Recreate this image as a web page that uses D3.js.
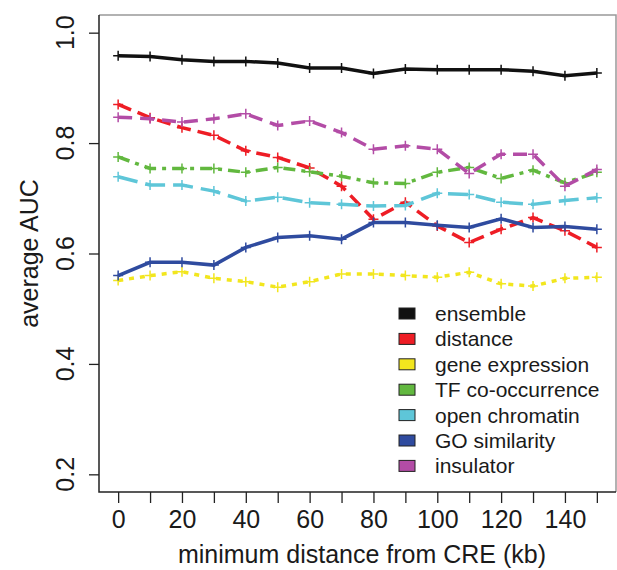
<!DOCTYPE html>
<html>
<head>
<meta charset="utf-8">
<script src="https://cdn.jsdelivr.net/npm/d3@7"></script>
<style>
  body { margin: 0; background: #fff; }
  text { font-family: "Liberation Sans", Arial, sans-serif; fill: #1a1a1a; }
</style>
</head>
<body>
<script>
// data ==============================================================
var distances = [0, 10, 20, 30, 40, 50, 60, 70, 80, 90, 100, 110, 120, 130, 140, 150];

var ensemble    = [0.958, 0.957, 0.951, 0.948, 0.948, 0.945, 0.936, 0.936, 0.926, 0.934, 0.933, 0.933, 0.933, 0.930, 0.922, 0.927];
var distance    = [0.870, 0.846, 0.828, 0.814, 0.786, 0.774, 0.755, 0.722, 0.662, 0.693, 0.650, 0.620, 0.644, 0.665, 0.641, 0.611];
var geneExpr    = [0.551, 0.560, 0.567, 0.555, 0.549, 0.539, 0.549, 0.563, 0.563, 0.560, 0.557, 0.566, 0.545, 0.541, 0.555, 0.557];
var tfCooc      = [0.775, 0.754, 0.754, 0.754, 0.747, 0.756, 0.748, 0.740, 0.728, 0.727, 0.747, 0.756, 0.736, 0.751, 0.728, 0.747];
var openChrom   = [0.739, 0.724, 0.724, 0.713, 0.695, 0.702, 0.692, 0.689, 0.686, 0.687, 0.709, 0.707, 0.693, 0.689, 0.696, 0.701];
var goSim       = [0.560, 0.584, 0.584, 0.579, 0.611, 0.629, 0.632, 0.626, 0.656, 0.656, 0.651, 0.647, 0.663, 0.647, 0.649, 0.644];
var insulator   = [0.847, 0.844, 0.838, 0.844, 0.853, 0.832, 0.840, 0.819, 0.789, 0.795, 0.789, 0.745, 0.780, 0.780, 0.722, 0.752];

var seriesNames = ["ensemble", "distance", "gene expression", "TF co-occurrence", "open chromatin", "GO similarity", "insulator"];
var seriesValues = [ensemble, distance, geneExpr, tfCooc, openChrom, goSim, insulator];
var seriesColors = ["#111111", "#ee1d25", "#f2e61e", "#62b83f", "#5ec6d8", "#2f4b9f", "#b34ca6"];
var seriesDash = [null, "14,7", "5,6", "12,6,4,6", "20,8", null, "14,8"];

var xTicks = [0, 10, 20, 30, 40, 50, 60, 70, 80, 90, 100, 110, 120, 130, 140, 150];
var yTicks = [0.2, 0.4, 0.6, 0.8, 1.0];

// ==================================================================
var width = 617, height = 570;
var plot = { left: 99, right: 616, top: 15, bottom: 492 };

var x = d3.scaleLinear().domain([-6, 156]).range([plot.left, plot.right]);
var y = d3.scaleLinear().domain([0.168, 1.032]).range([plot.bottom, plot.top]);

var svg = d3.select("body").append("svg")
    .attr("width", width)
    .attr("height", height);

// axes
var xAxis = d3.axisBottom(x)
    .tickValues(xTicks)
    .tickSize(11)
    .tickPadding(5)
    .tickFormat(d => d % 20 === 0 ? d : "");

var gx = svg.append("g")
    .attr("transform", "translate(0," + plot.bottom + ")")
    .call(xAxis);
gx.select(".domain").remove();
gx.selectAll("line").attr("stroke", "#222").attr("stroke-width", 1.3);
gx.selectAll("text")
    .attr("font-size", "25px")
    .attr("font-family", "Liberation Sans, Arial, sans-serif")
    .attr("fill", "#1a1a1a")
    .attr("dy", "0.8em");

var yAxis = d3.axisLeft(y)
    .tickValues(yTicks)
    .tickSize(10)
    .tickFormat("");

var gy = svg.append("g")
    .attr("transform", "translate(" + plot.left + ",0)")
    .call(yAxis);
gy.select(".domain").remove();
gy.selectAll("line").attr("stroke", "#222").attr("stroke-width", 1.3);

svg.append("g").selectAll("text")
    .data(yTicks)
  .enter().append("text")
    .attr("transform", d => "translate(74," + y(d) + ") rotate(-90)")
    .attr("text-anchor", "middle")
    .attr("font-size", "25px")
    .text(d => d3.format(".1f")(d));

// axis titles
svg.append("text")
    .attr("x", 362)
    .attr("y", 563)
    .attr("text-anchor", "middle")
    .attr("font-size", "25px")
    .text("minimum distance from CRE (kb)");

svg.append("text")
    .attr("transform", "translate(38," + ((plot.top + plot.bottom) / 2) + ") rotate(-90)")
    .attr("text-anchor", "middle")
    .attr("font-size", "25px")
    .text("average AUC");

// lines
var line = d3.line()
    .x((d, i) => x(distances[i]))
    .y(d => y(d));

var series = svg.append("g").selectAll("g")
    .data(seriesValues)
  .enter().append("g");

series.append("path")
    .attr("d", line)
    .attr("fill", "none")
    .attr("stroke", (d, i) => seriesColors[i])
    .attr("stroke-width", 3.5)
    .attr("stroke-dasharray", (d, i) => seriesDash[i]);

// "+" markers
series.each(function (vals, i) {
  d3.select(this).selectAll("path.pt")
      .data(vals)
    .enter().append("path")
      .attr("class", "pt")
      .attr("d", (v, j) => {
        var cx = x(distances[j]), cy = y(v), r = 5;
        return "M" + (cx - r) + "," + cy + "H" + (cx + r) + "M" + cx + "," + (cy - r) + "V" + (cy + r);
      })
      .attr("stroke", seriesColors[i])
      .attr("stroke-width", 1.5);
});

// box
svg.append("path")
    .attr("d", "M" + plot.left + "," + plot.top + "H" + plot.right + "V" + plot.bottom)
    .attr("fill", "none")
    .attr("stroke", "#999")
    .attr("stroke-width", 1.5);
svg.append("path")
    .attr("d", "M" + plot.left + "," + plot.top + "V" + plot.bottom + "H" + plot.right)
    .attr("fill", "none")
    .attr("stroke", "#222")
    .attr("stroke-width", 1.5);

// legend
var legend = svg.append("g").selectAll("g")
    .data(seriesNames)
  .enter().append("g")
    .attr("transform", (d, i) => "translate(399," + (313.5 + i * 25.4) + ")");

legend.append("rect")
    .attr("x", 0)
    .attr("y", -5.5)
    .attr("width", 16)
    .attr("height", 11)
    .attr("fill", (d, i) => seriesColors[i])
    .attr("stroke", "#222")
    .attr("stroke-width", 1);

legend.append("text")
    .attr("x", 36)
    .attr("y", 7.5)
    .attr("font-size", "21px")
    .text(d => d);
</script>
</body>
</html>
